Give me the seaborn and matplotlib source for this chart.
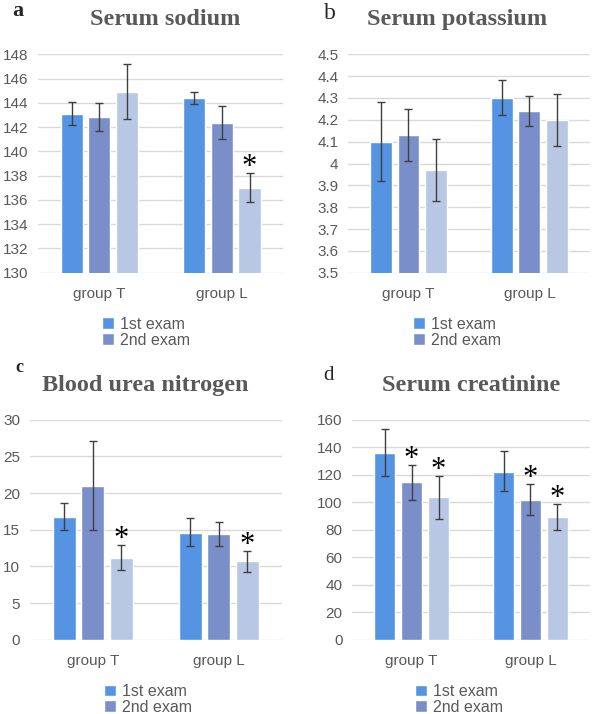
import matplotlib
matplotlib.use("Agg")
import matplotlib.pyplot as plt
import pandas as pd
import seaborn as sns
from matplotlib.patches import Patch

groups = ["group T", "group L"]
exams = ["1st exam", "2nd exam", "3rd exam"]
colors = ["#5593e3", "#7a8ec9", "#b7c7e4"]

# means per exam, [group T, group L]; error bar lower / upper ends
sodium_mean = [[143.1, 144.4], [142.8, 142.3], [144.9, 137.0]]
sodium_lo = [[142.2, 143.9], [141.7, 141.0], [142.7, 135.8]]
sodium_hi = [[144.1, 144.9], [144.0, 143.7], [147.2, 138.2]]
sodium_star = [[False, False], [False, False], [False, True]]

potassium_mean = [[4.10, 4.30], [4.13, 4.24], [3.97, 4.20]]
potassium_lo = [[3.92, 4.22], [4.01, 4.17], [3.83, 4.08]]
potassium_hi = [[4.28, 4.38], [4.25, 4.31], [4.11, 4.32]]
potassium_star = [[False, False], [False, False], [False, False]]

bun_mean = [[16.8, 14.6], [21.0, 14.4], [11.2, 10.7]]
bun_lo = [[15.0, 12.8], [15.0, 12.8], [9.5, 9.3]]
bun_hi = [[18.6, 16.6], [27.1, 16.0], [12.9, 12.1]]
bun_star = [[False, False], [False, False], [True, True]]

creat_mean = [[136, 122], [114.5, 101.5], [103.5, 89]]
creat_lo = [[119, 108], [102, 90.5], [88, 79.5]]
creat_hi = [[153, 137], [127, 113], [119, 99]]
creat_star = [[False, False], [True, True], [True, True]]

panels = [
    dict(letter="a", title="Serum sodium", mean=sodium_mean, lo=sodium_lo, hi=sodium_hi, star=sodium_star,
         ylim=(130, 148), ticks=list(range(130, 149, 2)), labels=None,
         rect=[0.064, 0.618, 0.410, 0.306], title_x=0.52, legend_x=0.44),
    dict(letter="b", title="Serum potassium", mean=potassium_mean, lo=potassium_lo, hi=potassium_hi, star=potassium_star,
         ylim=(3.5, 4.5), ticks=[3.5, 3.6, 3.7, 3.8, 3.9, 4.0, 4.1, 4.2, 4.3, 4.4, 4.5],
         labels=["3.5", "3.6", "3.7", "3.8", "3.9", "4", "4.1", "4.2", "4.3", "4.4", "4.5"],
         rect=[0.583, 0.618, 0.405, 0.306], title_x=0.45, legend_x=0.45),
    dict(letter="c", title="Blood urea nitrogen", mean=bun_mean, lo=bun_lo, hi=bun_hi, star=bun_star,
         ylim=(0, 30), ticks=list(range(0, 31, 5)), labels=None,
         rect=[0.050, 0.104, 0.422, 0.308], title_x=0.46, legend_x=0.47),
    dict(letter="d", title="Serum creatinine", mean=creat_mean, lo=creat_lo, hi=creat_hi, star=creat_star,
         ylim=(0, 160), ticks=list(range(0, 161, 20)), labels=None,
         rect=[0.590, 0.104, 0.398, 0.308], title_x=0.50, legend_x=0.45),
]

sns.set_style("white")
plt.rcParams["font.family"] = ["Liberation Sans", "DejaVu Sans"]

fig = plt.figure(figsize=(5.97, 7.14), dpi=100)
tick_color = "#595959"

for p in panels:
    ax = fig.add_axes(p["rect"])
    rows = []
    for i, ex in enumerate(exams):
        for j, g in enumerate(groups):
            rows.append({"group": g, "exam": ex, "value": p["mean"][i][j]})
    df = pd.DataFrame(rows)
    sns.barplot(data=df, x="group", y="value", hue="exam", order=groups, hue_order=exams,
                palette=colors, errorbar=None, width=0.68, gap=0.2, legend=False,
                saturation=1, ax=ax)
    ax.set_ylim(*p["ylim"])
    ax.set_xlim(-0.5, 1.5)
    bar_sets = list(ax.containers)
    for i, cont in enumerate(bar_sets):
        for j, bar in enumerate(cont.patches):
            xc = bar.get_x() + bar.get_width() / 2
            m = p["mean"][i][j]
            ax.errorbar(xc, m, yerr=[[m - p["lo"][i][j]], [p["hi"][i][j] - m]], fmt="none",
                        ecolor="#3f3f3f", elinewidth=1, capsize=3, capthick=1, zorder=5)
            if p["star"][i][j]:
                ax.annotate("*", (xc, p["hi"][i][j]), xytext=(0, 4), textcoords="offset points",
                            ha="center", va="center", fontsize=22, family="Liberation Serif",
                            color="black")
    ax.set_yticks(p["ticks"])
    if p["labels"]:
        ax.set_yticklabels(p["labels"])
    ax.yaxis.grid(True, color="#d9d9d9", linewidth=1)
    ax.set_axisbelow(True)
    for s in ax.spines.values():
        s.set_visible(False)
    ax.tick_params(axis="y", length=0, pad=7, labelsize=11, labelcolor=tick_color)
    ax.tick_params(axis="x", length=0, pad=10, labelsize=11, labelcolor=tick_color)
    ax.set_xlabel("")
    ax.set_ylabel("")
    ax.set_title(p["title"], fontsize=17.5, fontweight="bold", family="Liberation Serif",
                 color="#595959", pad=21, x=p["title_x"])
    # legend shows only the first two exams, as in the original figure
    handles = [Patch(facecolor=colors[k], label=exams[k]) for k in range(2)]
    ax.legend(handles=handles, loc="upper center", bbox_to_anchor=(p["legend_x"], -0.165), frameon=False,
              fontsize=11.5, handlelength=0.75, handleheight=0.75, handletextpad=0.4,
              labelspacing=0.05, labelcolor=tick_color, borderpad=0)

# panel letters: (text, x, baseline y, size, weight)
letters = [("a", 0.021, 0.978, 16, "bold"), ("b", 0.543, 0.973, 17, "normal"),
           ("c", 0.026, 0.479, 13, "bold"), ("d", 0.542, 0.468, 15, "normal")]
for t, x, y, fs, fw in letters:
    fig.text(x, y, t, fontsize=fs, fontweight=fw, family="Liberation Serif", va="baseline", ha="left")

fig.savefig("out.png", dpi=100)
